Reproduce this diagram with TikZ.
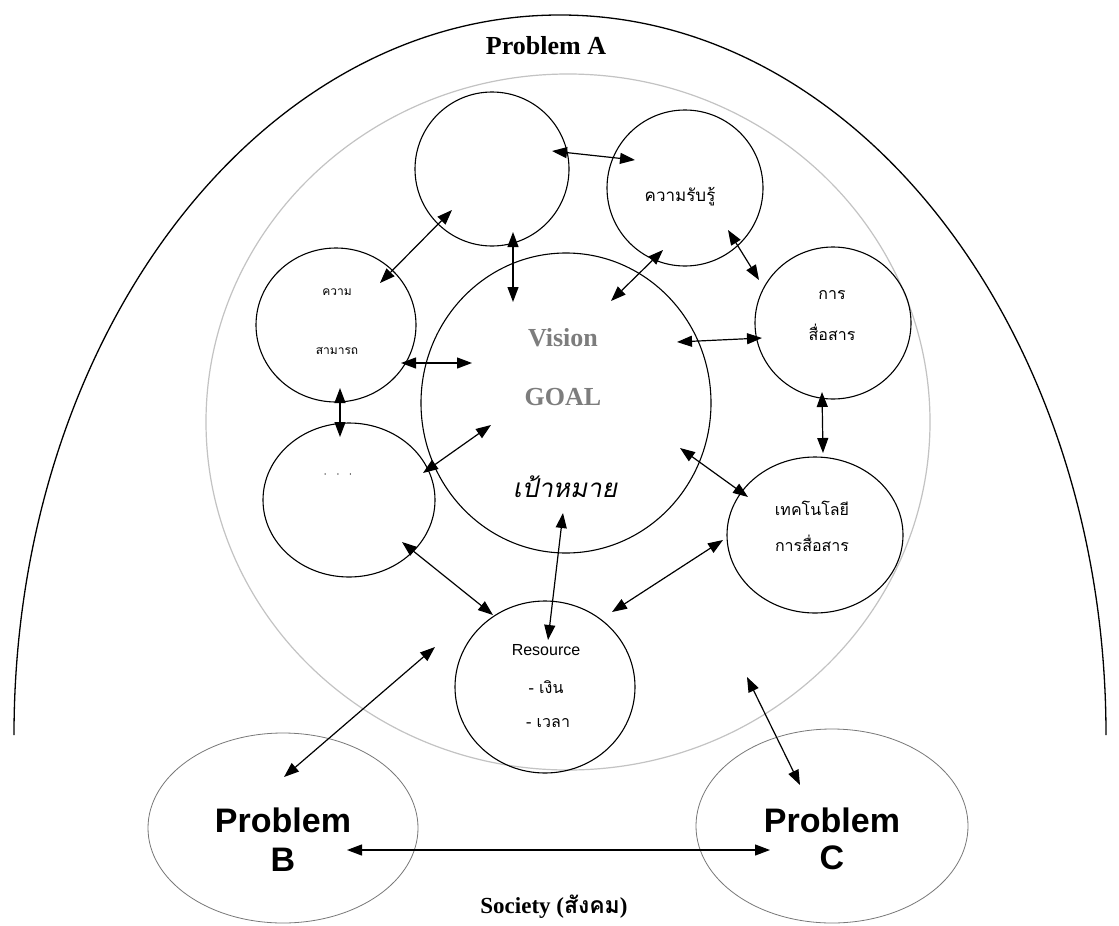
\documentclass[tikz,border=0pt]{standalone}
\usepackage{fontspec}
\setmainfont{Liberation Serif}
\newfontfamily\sansf{Liberation Sans}
\newfontfamily\thai[Script=Thai]{Loma}
\newfontfamily\thaiit[Script=Thai,FakeSlant=0.2]{Loma}
\usetikzlibrary{arrows.meta,shapes.geometric}
\definecolor{ringgrey}{RGB}{195,195,195}
\definecolor{probgrey}{RGB}{120,120,120}
\definecolor{visgrey}{RGB}{125,125,125}
\tikzset{
  circ/.style={draw, ellipse, line width=1.1pt, inner sep=0pt},
  pcirc/.style={draw=probgrey, ellipse, line width=0.8pt, inner sep=0pt},
  bi/.style={line width=1.2pt, {Triangle[length=15pt,width=11pt]}-{Triangle[length=15pt,width=11pt]}},
  txt/.style={inner sep=0pt, anchor=center},
}
\newcommand{\fs}[1]{\fontsize{#1}{#1}\selectfont}
\begin{document}
\begin{tikzpicture}[x=1pt,y=-1pt]
\useasboundingbox (0,0) rectangle (1119,926);
\fill[white] (0,0) rectangle (1119,926);

% outer problem A arc
\draw[line width=1.3pt] (14,735) arc[start angle=180, end angle=360, x radius=546, y radius=720];
\node[txt] (pa) at (546,46) {\fs{26}\bfseries Problem A};

% grey ring
\node[draw=ringgrey, ellipse, line width=1.2pt, minimum width=724pt, minimum height=696pt, inner sep=0pt] (ring) at (568,422) {};

% circles
\node[circ, minimum width=154pt, minimum height=154pt] (top) at (492,169) {};
\node[circ, minimum width=156pt, minimum height=156pt] (know) at (685,188) {};
\node[circ, minimum width=160pt, minimum height=154pt] (abil) at (336,325) {};
\node[circ, minimum width=172pt, minimum height=154pt] (dots) at (349,500) {};
\node[circ, minimum width=290pt, minimum height=300pt] (goal) at (566,403) {};
\node[circ, minimum width=156pt, minimum height=152pt] (comm) at (833,323) {};
\node[circ, minimum width=176pt, minimum height=156pt] (tech) at (815,535) {};
\node[circ, minimum width=180pt, minimum height=172pt] (res) at (545,687) {};
\node[pcirc, minimum width=270pt, minimum height=190pt] (pb) at (283,828) {};
\node[pcirc, minimum width=272pt, minimum height=194pt] (pc) at (832,826) {};

% texts
\node[txt, text=visgrey] (vis) at (563,338) {\fs{26}\bfseries Vision};
\node[txt, text=visgrey] (gl) at (563,397) {\fs{26}\bfseries GOAL};
\node[txt] (pm) at (565,487) {\fs{26}\thaiit เป้าหมาย};
\node[txt] (knowt) at (680,197) {\fs{17}\thai ความรับรู้};
\node[txt] (abt1) at (337,292) {\fs{12}\thai ความ};
\node[txt] (abt2) at (337,351) {\fs{12}\thai สามารถ};
\node[txt] (dott) at (338,475) {\fs{12}$\cdot\;\;\cdot\;\;\cdot$};
\node[txt] (cmt1) at (832,295) {\fs{16}\thai การ};
\node[txt] (cmt2) at (832,332) {\fs{16}\thai สื่อสาร};
\node[txt] (tet1) at (812,508) {\fs{16}\thai เทคโนโลยี};
\node[txt] (tet2) at (812,543) {\fs{16}\thai การสื่อสาร};
\node[txt] (rst1) at (546,650) {\fs{16}\sansf Resource};
\node[txt] (rst2) at (546,687) {\fs{16}\thai - เงิน};
\node[txt] (rst3) at (548,723) {\fs{16}\thai - เวลา};
\node[txt] (pbt1) at (283,820) {\fs{34}\sansf\bfseries Problem};
\node[txt] (pbt2) at (283,860) {\fs{34}\sansf\bfseries B};
\node[txt] (pct1) at (832,820) {\fs{34}\sansf\bfseries Problem};
\node[txt] (pct2) at (832,858) {\fs{34}\sansf\bfseries C};
\node[txt] (soc) at (554,907) {\fs{23}\bfseries Society ({\thai สังคม})};

% connector end points
\coordinate (a1) at (552,151); \coordinate (a2) at (635,160);
\coordinate (b1) at (513,232); \coordinate (b2) at (513,302);
\coordinate (c1) at (452,210); \coordinate (c2) at (380,283);
\coordinate (d1) at (663,250); \coordinate (d2) at (611,301);
\coordinate (e1) at (728,230); \coordinate (e2) at (759,280);
\coordinate (f1) at (762,338); \coordinate (f2) at (677,342);
\coordinate (g1) at (822,392); \coordinate (g2) at (823,453);
\coordinate (h1) at (748,497); \coordinate (h2) at (680,448);
\coordinate (i1) at (723,540); \coordinate (i2) at (612,612);
\coordinate (j1) at (563,513); \coordinate (j2) at (548,640);
\coordinate (k1) at (402,542); \coordinate (k2) at (493,615);
\coordinate (l1) at (423,473); \coordinate (l2) at (491,425);
\coordinate (m1) at (401,363); \coordinate (m2) at (472,363);
\coordinate (n1) at (340,388); \coordinate (n2) at (340,437);
\coordinate (o1) at (435,647); \coordinate (o2) at (284,777);
\coordinate (p1) at (747,677); \coordinate (p2) at (800,785);
\coordinate (q1) at (347,850); \coordinate (q2) at (770,850);

\foreach \s in {a,b,c,d,e,f,g,h,i,j,k,l,m,n,o,p,q}
  \draw[bi] (\s1) -- (\s2);
\end{tikzpicture}
\end{document}
